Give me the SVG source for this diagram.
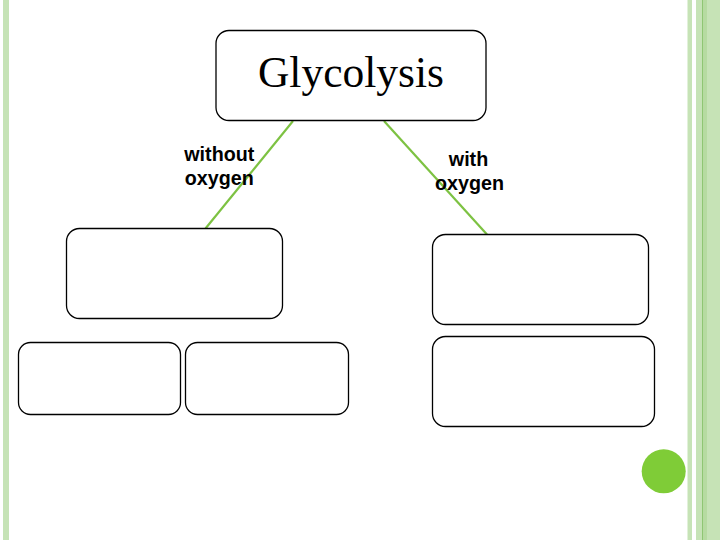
<svg xmlns="http://www.w3.org/2000/svg" width="720" height="540" viewBox="0 0 720 540">
  <style>
    .box { fill: #ffffff; stroke: #000000; stroke-width: 1.3; }
    .conn { stroke: #7dc242; stroke-width: 2.2; fill: none; }
    .lbl { font-family: "Liberation Sans", Arial, sans-serif; font-size: 19.7px; font-weight: bold; fill: #000000; text-anchor: middle; }
    .title { font-family: "Liberation Serif", "Times New Roman", serif; font-size: 43.5px; fill: #000000; text-anchor: middle; }
    .stripe { fill: #c6e3b6; }
  </style>
  <rect x="0" y="0" width="720" height="540" fill="#ffffff"/>
  <g id="decor">
    <rect class="stripe" x="3" y="0" width="6" height="540"/>
    <rect class="stripe" x="687.5" y="0" width="4.5" height="540"/>
    <rect class="stripe" x="696" y="0" width="24" height="540"/>
    <rect x="703" y="0" width="4" height="540" fill="#b6dba1"/>
    <rect x="702" y="0" width="1" height="540" fill="#8fc673"/>
    <circle cx="663.7" cy="471.3" r="22" fill="#7fcc37"/>
  </g>
  <g id="connectors">
    <line class="conn" x1="293" y1="121" x2="205.5" y2="228.5"/>
    <line class="conn" x1="384" y1="121" x2="487" y2="234.5"/>
  </g>
  <g id="glycolysis">
    <rect class="box" x="216" y="30.5" width="270" height="90" rx="13" ry="13"/>
    <text class="title" x="351" y="87">Glycolysis</text>
  </g>
  <g id="label-without">
    <text class="lbl" x="219.3" y="160.7">without</text>
    <text class="lbl" x="219.3" y="185">oxygen</text>
  </g>
  <g id="label-with">
    <text class="lbl" x="468.5" y="165.7">with</text>
    <text class="lbl" x="469.5" y="190">oxygen</text>
  </g>
  <g id="box-left-top">
    <rect class="box" x="66.5" y="228.5" width="216" height="90" rx="13" ry="13"/>
  </g>
  <g id="box-left-bottom-1">
    <rect class="box" x="18.5" y="342.5" width="162" height="72" rx="12" ry="12"/>
  </g>
  <g id="box-left-bottom-2">
    <rect class="box" x="185.5" y="342.5" width="163" height="72" rx="12" ry="12"/>
  </g>
  <g id="box-right-top">
    <rect class="box" x="432.5" y="234.5" width="216" height="90" rx="13" ry="13"/>
  </g>
  <g id="box-right-bottom">
    <rect class="box" x="432.5" y="336.5" width="222" height="90" rx="13" ry="13"/>
  </g>
</svg>
